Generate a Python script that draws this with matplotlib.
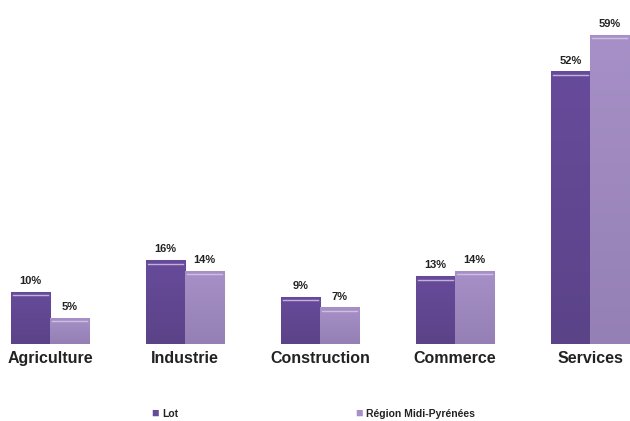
import numpy as np
import matplotlib
matplotlib.use('Agg')
import matplotlib.pyplot as plt

plt.rcParams['font.family'] = ['Liberation Sans', 'DejaVu Sans']

# data
categories = ['Agriculture', 'Industrie', 'Construction', 'Commerce', 'Services']
lot = [10, 16, 9, 13, 52]
region = [5, 14, 7, 14, 59]
series_names = ['Lot', 'Région Midi-Pyrénées']

col_lot = '#674b9b'
col_region = '#a690c7'

fig = plt.figure(figsize=(6.3, 4.21), dpi=100)
ax = fig.add_axes([0, 0.1829, 1, 0.747])

x = np.arange(len(categories))
w = 0.289

def draw(xs, vals, color, top_color):
    bars = ax.bar(xs, vals, width=w, color=color, edgecolor='#ddd2ea', linewidth=0.8)
    for b in bars:
        # vertical shading inside each bar
        x0, y0 = b.get_x(), b.get_y()
        grad = np.linspace(0, 1, 50).reshape(-1, 1)
        cmap = matplotlib.colors.LinearSegmentedColormap.from_list('g', [color, top_color])
        im = ax.imshow(grad, extent=[x0, x0 + b.get_width(), y0, y0 + b.get_height()],
                       origin='lower', aspect='auto', cmap=cmap, zorder=2)
        im.set_clip_path(b)
        # top highlight, inside the bar
        ax.plot([x0 + 0.015, x0 + b.get_width() - 0.015], [y0 + b.get_height() - 0.7] * 2,
                color='#d9cbe9', lw=1.0, alpha=0.8, zorder=3)
    return bars

draw(x - w / 2, lot, '#5b4388', col_lot)
draw(x + w / 2, region, '#9580b5', col_region)

for i in range(len(categories)):
    ax.text(x[i] - w / 2, lot[i] + 1.1, f'{lot[i]}%', ha='center', va='bottom',
            fontsize=8, fontweight='bold', color='#222222')
    ax.text(x[i] + w / 2, region[i] + 1.1, f'{region[i]}%', ha='center', va='bottom',
            fontsize=8, fontweight='bold', color='#222222')
    ax.text(x[i], -1.4, categories[i], ha='center', va='top',
            fontsize=11.5, fontweight='bold', color='#222222')

ax.set_xlim(-0.37, 4.296)
ax.set_ylim(0, 60)
ax.axis('off')

# legend
fig.text(0.240, 0.002, '\u25a0', color=col_lot, fontsize=9, va='bottom')
fig.text(0.257, 0.004, series_names[0], fontsize=7.5, fontweight='bold', color='#222222', va='bottom')
fig.text(0.564, 0.002, '\u25a0', color=col_region, fontsize=9, va='bottom')
fig.text(0.581, 0.004, series_names[1], fontsize=7.5, fontweight='bold', color='#222222', va='bottom')

fig.savefig('out.png', dpi=100)
